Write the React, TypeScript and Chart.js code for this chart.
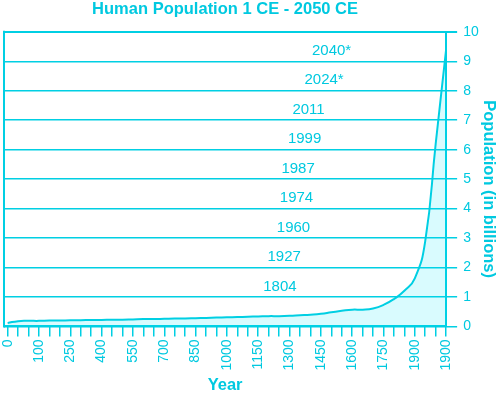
import React, { useEffect, useRef } from 'react';
import { Chart, registerables } from 'chart.js';

Chart.register(...registerables);

// ---------- data ----------
const xTickLabels = ['0', '100', '250', '400', '550', '700', '850', '1000', '1150', '1300', '1450', '1600', '1750', '1900', '1900'];
const LABEL_EVERY = 3;

// population (billions) at each x category step
const population = [
  0.12, 0.18, 0.19, 0.19, 0.2, 0.2, 0.21, 0.21, 0.22, 0.22,
  0.23, 0.23, 0.24, 0.25, 0.25, 0.26, 0.27, 0.27, 0.28, 0.29,
  0.3, 0.31, 0.32, 0.33, 0.34, 0.35, 0.35, 0.36, 0.38, 0.4,
  0.43, 0.48, 0.53, 0.57, 0.57, 0.61, 0.73, 0.93, 1.21, 1.63,
  2.9, 6.2, 9.4,
];

const milestoneYears = ['1804', '1927', '1960', '1974', '1987', '1999', '2011', '2024*', '2040*'];
const milestoneBillions = [1, 2, 3, 4, 5, 6, 7, 8, 9];
const milestoneLabelX = [26.08, 26.49, 27.38, 27.67, 27.82, 28.44, 28.82, 30.31, 31.03];

const yMin = 0;
const yMax = 10;

// ---------- styles ----------
const CYAN = '#00cfe3';
const TEXT = '#00c9e0';
const FILL = 'rgba(0, 228, 245, 0.15)';
const FONT = "'Liberation Sans', Arial, Helvetica, sans-serif";
const TITLE_SIZE = 16.5;
const TICK_SIZE = 14;
const Y_TITLE = 'Population (in billions)';
const Y_TITLE_FROM_RIGHT = 10.8;
const Y_TITLE_SHIFT = 10;
const MILESTONE_LIFT = 10.5;

const decorPlugin = {
  id: 'decor',
  afterDatasetsDraw(chart: any) {
    const { ctx, chartArea, scales } = chart;
    const x = scales.x;
    const y = scales.y;
    ctx.save();
    // left frame line
    ctx.strokeStyle = CYAN;
    ctx.lineWidth = 2;
    ctx.beginPath();
    ctx.moveTo(chartArea.left, chartArea.top - 1);
    ctx.lineTo(chartArea.left, chartArea.bottom + 1);
    ctx.stroke();

    // milestone labels
    ctx.fillStyle = TEXT;
    ctx.font = `15px ${FONT}`;
    ctx.textAlign = 'center';
    ctx.textBaseline = 'middle';
    milestoneYears.forEach((label, i) => {
      const px = x.getPixelForValue(milestoneLabelX[i]);
      const py = y.getPixelForValue(milestoneBillions[i]) - MILESTONE_LIFT;
      ctx.fillText(label, px, py);
    });

    // right axis title
    const tx = chart.width - Y_TITLE_FROM_RIGHT;
    const ty = (chartArea.top + chartArea.bottom) / 2 + Y_TITLE_SHIFT;
    ctx.translate(tx, ty);
    ctx.rotate(Math.PI / 2);
    ctx.font = `bold ${TITLE_SIZE}px ${FONT}`;
    ctx.fillText(Y_TITLE, 0, 0);
    ctx.restore();
  },
};

export default function App() {
  const ref = useRef<HTMLCanvasElement | null>(null);

  useEffect(() => {
    if (!ref.current) return;
    const chart = new Chart(ref.current, {
      type: 'line',
      data: {
        datasets: [
          {
            data: population.map((v, i) => ({ x: i, y: v })),
            borderColor: CYAN,
            borderWidth: 2,
            backgroundColor: FILL,
            fill: 'origin',
            pointRadius: 0,
            tension: 0.5,
          },
        ],
      },
      options: {
        animation: false,
        responsive: false,
        devicePixelRatio: 1,
        layout: { padding: { left: 4, right: -5.5, top: 0, bottom: 0 } },
        plugins: {
          legend: { display: false },
          tooltip: { enabled: false },
          title: {
            display: true,
            text: 'Human Population 1 CE - 2050 CE',
            color: TEXT,
            fullSize: false,
            font: { family: FONT, size: TITLE_SIZE, weight: 'bold' },
            padding: { top: 0, bottom: 12 },
          },
        },
        scales: {
          x: {
            type: 'linear',
            min: -0.35,
            max: population.length - 1,
            afterBuildTicks: (scale: any) => {
              scale.ticks = population.map((_, i) => ({ value: i }));
            },
            ticks: {
              autoSkip: false,
              minRotation: 90,
              maxRotation: 90,
              padding: 3,
              color: TEXT,
              font: { family: FONT, size: TICK_SIZE },
              callback: (v: any) => (v % LABEL_EVERY === 0 ? xTickLabels[v / LABEL_EVERY] : ''),
            },
            grid: {
              display: true,
              drawOnChartArea: false,
              drawTicks: true,
              tickLength: 10,
              color: CYAN,
              lineWidth: 1.5,
            },
            border: { display: true, color: CYAN, width: 2 },
            title: {
              display: true,
              text: 'Year',
              color: TEXT,
              font: { family: FONT, size: TITLE_SIZE, weight: 'bold' },
              padding: { top: 1.6, bottom: 0 },
            },
          },
          y: {
            position: 'right',
            min: yMin,
            max: yMax,
            ticks: {
              stepSize: 1,
              padding: 6,
              color: TEXT,
              font: { family: FONT, size: TICK_SIZE },
            },
            grid: {
              color: CYAN,
              lineWidth: (c: any) => (c.tick && c.tick.value === yMax ? 2 : 1.5),
              tickLength: 11,
              drawTicks: true,
            },
            border: { display: true, color: CYAN, width: 2 },
            title: {
              display: true,
              text: Y_TITLE,
              color: 'rgba(0,0,0,0)',
              font: { family: FONT, size: TITLE_SIZE, weight: 'bold' },
              padding: { top: 0, bottom: 0 },
            },
          },
        },
      },
      plugins: [decorPlugin],
    } as any);
    return () => chart.destroy();
  }, []);

  return (
    <div style={{ position: 'absolute', left: 0, top: 0, width: 499, height: 395 }}>
      <canvas ref={ref} width={499} height={395} style={{ display: 'block' }} />
    </div>
  );
}
